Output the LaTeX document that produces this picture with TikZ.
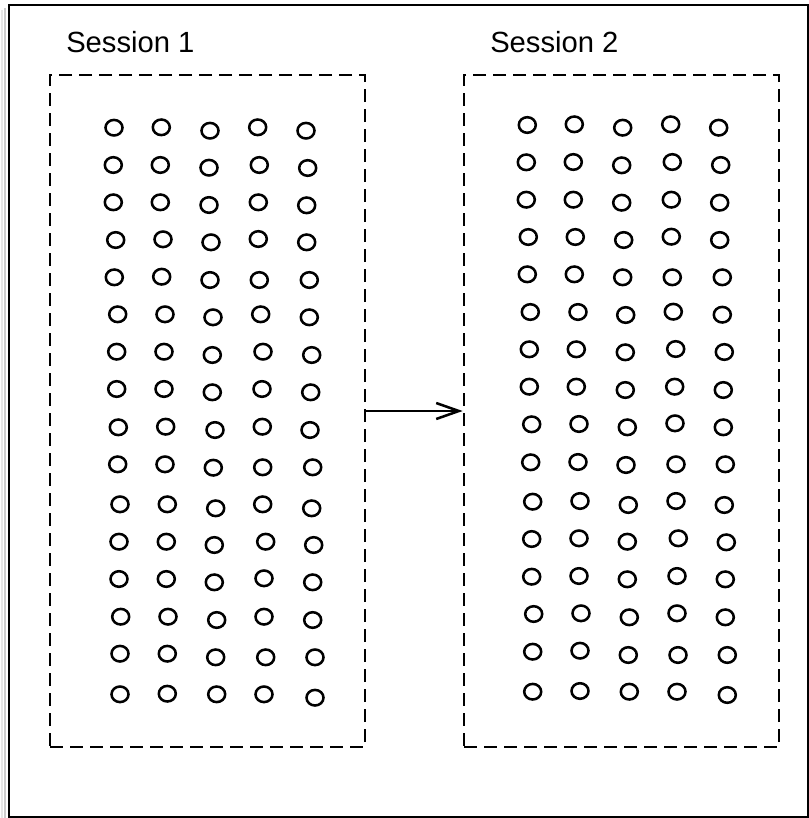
\documentclass[tikz,border=0pt]{standalone}
\usepackage{fontspec}
\setmainfont{Liberation Sans}
\usetikzlibrary{arrows.meta}
\begin{document}
\begin{tikzpicture}[x=0.75pt,y=-0.75pt,
  sessionbox/.style={draw, line width=2pt, dash pattern=on 9.4pt off 5.6pt, minimum width=236.25pt, minimum height=504pt, inner sep=0pt},
  sessiontext/.style={anchor=base west, font=\fontsize{21.9}{26}\selectfont, inner sep=0pt},
  dot/.style={line width=1.9pt},
  flow/.style={line width=1.9pt, -{Straight Barb[length=17pt, width=12pt, line width=1.9pt]}}]
\useasboundingbox (0,0) rectangle (809,818);
\fill[white] (0,0) rectangle (809,818);
\draw[black!20, line width=2pt] (5,8) -- (5,818);
\draw[black!10, line width=2pt] (2,10) -- (2,818);
\draw[line width=1.9pt] (9,5) rectangle (808,817);
\node[sessiontext] (t1) at (66,52) {Session 1};
\node[sessiontext] (t2) at (490,52) {Session 2};
\node[sessionbox] (s1) at (207.5,411) {};
\node[sessionbox] (s2) at (621.5,411) {};
\draw[flow] (s1.east) -- (s2.west);
\foreach \x/\y in {
114/127.7,161.3/127.3,210/130.7,257.7/127.3,306/130.7,
113.3/165,160.3/165,209/167.7,259.3/165,307.7/168,
113.3/202.3,160.3/202.3,209/205,258.3/202.3,306.7/205.3,
115.7/240,163/239.3,211/242.3,258.3/239,306.7/242.3,
114.3/277.3,161.7/276.7,210/280,259.3/280,309.3/280,
117.7/314.3,165/314.3,213/317.3,260.7/314.3,309.3/317.3,
116.7/351.7,164/351.7,212.3/355,263/351.7,311.7/355,
116.7/389,164/389,212.3/392.3,262/389,310.7/392.3,
118.3/427.3,165.7/426.7,215/430,262.3/426.7,310/430,
117.7/464.3,165/464.3,213.3/467.7,262.7/467.3,312.7/467.3,
120/504.3,167.3/504.3,215.7/508.3,262.7/504.3,311.7/508.3,
119/541.7,166.3/541.7,214.3/545,265.7/541.7,313.7/545,
119/579,166.3/579,214.3/582.3,264/578.3,312.7/582.3,
120.7/616.7,168/616.7,216.7/620,264/616.7,312.7/620,
120/653.7,167.3/653.7,215.7/657.3,265.7/657.3,315/657.3,
120/694.3,167.3/693.7,216.7/694.3,264/694.3,315/697.7,
527.3/125,574.3/124.3,622.7/127.7,670.7/124.3,718.7/127.7,
526.3/162.3,573.3/162,621.7/165.3,672.3/162,720.7/165,
526.3/199.7,573.3/199.7,621.7/202.7,671.3/199.7,719.7/202.7,
528.3/237,575.3/237,623.7/240,671.3/236.7,719.7/240,
527.3/274.3,574.3/274.3,622.7/277.3,672.3/277.3,722.3/277.3,
530.3/312,578/312,625.7/315,673.3/311.7,722.3/314.7,
529.3/349.3,576.3/349.3,625.3/352.3,675.7/349,724.3/352,
529.3/386.7,576.3/386.7,625.3/390,674.7/386.7,723.3/390,
531.7/424.3,579/424,627.3/427.3,675/423.3,723.3/427.3,
530.7/462.3,578/462,626/465,676/464.3,725.3/464.3,
532.7/501.7,580/501,628.3/505,676/501,724.3/505,
531.7/539,579/538.3,627.3/541.7,678.3/538.3,726.3/542.3,
531.7/576.7,579/576,627.3/579.3,677/576,725.3/579.3,
533.7/614,581/613.3,629.3/617.3,677/613.3,725.3/617.3,
532.7/651.7,580/650.7,628.3/655,678/655,727.3/655,
532.7/691.7,580/691,629.3/691.7,677/691.7,727.3/695}
  \draw[dot] (\x,\y) ellipse [x radius=8.5, y radius=7.8];
\end{tikzpicture}
\end{document}
